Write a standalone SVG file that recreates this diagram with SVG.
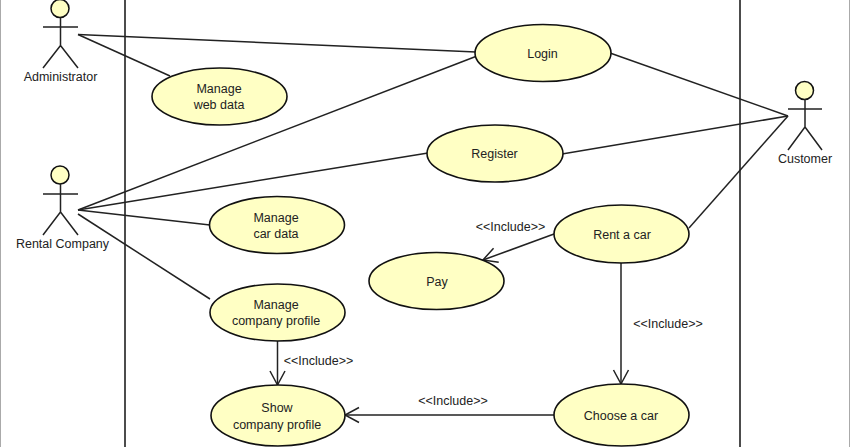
<svg xmlns="http://www.w3.org/2000/svg" width="850" height="447" viewBox="0 0 850 447">
<style>
text{font-family:"Liberation Sans",Arial,sans-serif;font-size:12.5px;fill:#222;text-anchor:middle}
.uc{fill:#ffffc4;stroke:#111;stroke-width:1.6}
.a{fill:none;stroke:#222;stroke-width:1.5}
.h{fill:#ffffc4;stroke:#111;stroke-width:1.5}
.c{fill:none;stroke:#222;stroke-width:1.5}
.f{stroke:#111;stroke-width:1.5}
.e{stroke:#aaa;stroke-width:2}
</style>
<defs><marker id="o" markerUnits="userSpaceOnUse" markerWidth="18" markerHeight="24" refX="15" refY="12" orient="auto"><path d="M1 4.500L15 12L1 19.500" fill="none" stroke="#222" stroke-width="1.5"/></marker></defs>
<rect width="850" height="447" fill="#fff"/>
<g id="frame"><line class="e" x1="0" y1="0" x2="0" y2="447"/><line class="e" x1="850" y1="0" x2="850" y2="447"/><line class="f" x1="125" y1="0" x2="125" y2="447"/><line class="f" x1="740" y1="0" x2="740" y2="447"/></g>
<g id="connectors">
<line class="c" x1="78" y1="34.500" x2="476" y2="52"/>
<line class="c" x1="78" y1="34.500" x2="170" y2="76"/>
<line class="c" x1="78" y1="210" x2="477" y2="56"/>
<line class="c" x1="78" y1="210" x2="428" y2="153"/>
<line class="c" x1="78" y1="210" x2="210" y2="225"/>
<line class="c" x1="78" y1="214" x2="210" y2="299"/>
<line class="c" x1="610" y1="53" x2="788" y2="116"/>
<line class="c" x1="562" y1="154" x2="788" y2="116"/>
<line class="c" x1="689" y1="228" x2="788" y2="116"/>
<line class="c" x1="554" y1="234" x2="483" y2="260" marker-end="url(#o)"/>
<line class="c" x1="621" y1="263" x2="621" y2="384" marker-end="url(#o)"/>
<line class="c" x1="277.500" y1="341" x2="277.500" y2="385" marker-end="url(#o)"/>
<line class="c" x1="554" y1="415" x2="345" y2="415" marker-end="url(#o)"/>
</g>
<g id="uc-login"><ellipse class="uc" cx="543" cy="53" rx="68" ry="28.500"/><text x="542.500" y="58">Login</text></g>
<g id="uc-web"><ellipse class="uc" cx="219.500" cy="96.500" rx="67.500" ry="28.500"/><text x="219" y="93">Manage</text><text x="219" y="109">web data</text></g>
<g id="uc-register"><ellipse class="uc" cx="495" cy="153.500" rx="68" ry="28.500"/><text x="494.500" y="158">Register</text></g>
<g id="uc-car"><ellipse class="uc" cx="277" cy="225" rx="67.500" ry="28.500"/><text x="276" y="222">Manage</text><text x="276" y="238">car data</text></g>
<g id="uc-rent"><ellipse class="uc" cx="621.500" cy="234" rx="67.500" ry="29"/><text x="622" y="239">Rent a car</text></g>
<g id="uc-pay"><ellipse class="uc" cx="436.500" cy="281" rx="67.500" ry="28.500"/><text x="437" y="286">Pay</text></g>
<g id="uc-company"><ellipse class="uc" cx="277.500" cy="312.500" rx="67.500" ry="28.500"/><text x="276" y="309">Manage</text><text x="276" y="325">company profile</text></g>
<g id="uc-show"><ellipse class="uc" cx="278" cy="415.500" rx="67" ry="30.500"/><text x="277" y="412">Show</text><text x="277" y="429">company profile</text></g>
<g id="uc-choose"><ellipse class="uc" cx="621.500" cy="415" rx="67.500" ry="31"/><text x="621" y="419.500">Choose a car</text></g>
<g id="actor-admin"><circle class="h" cx="60" cy="8.500" r="9"/><path class="a" d="M43 27H78M60.500 17.500V45.500M43 68L60.500 45.500L78 68"/><text x="60.500" y="81">Administrator</text></g>
<g id="actor-rental"><circle class="h" cx="60" cy="175" r="9"/><path class="a" d="M43 194H78M60.500 184V212L43 235M60.500 212L78 235"/><text x="62.500" y="247.500">Rental Company</text></g>
<g id="actor-customer"><circle class="h" cx="804.500" cy="90.500" r="9"/><path class="a" d="M788 109H822M805 99V127L788 150M805 127L822 150"/><text x="805" y="162.500">Customer</text></g>
<g id="labels">
<text x="510.500" y="231">&lt;&lt;Include&gt;&gt;</text>
<text x="668" y="328">&lt;&lt;Include&gt;&gt;</text>
<text x="318.500" y="365">&lt;&lt;Include&gt;&gt;</text>
<text x="453" y="405">&lt;&lt;Include&gt;&gt;</text>
</g>
</svg>
